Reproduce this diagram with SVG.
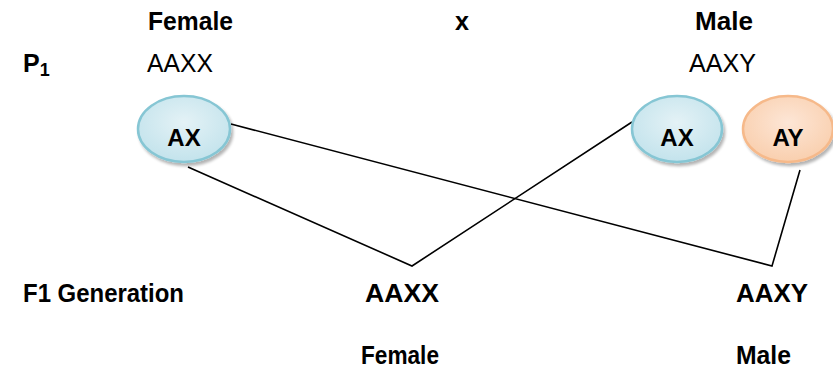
<svg xmlns="http://www.w3.org/2000/svg" width="833" height="379" viewBox="0 0 833 379">
  <defs>
    <radialGradient id="gBlue" cx="50%" cy="40%" r="60%">
      <stop offset="0" stop-color="#e4f2f6"/>
      <stop offset="1" stop-color="#c3e3ec"/>
    </radialGradient>
    <radialGradient id="gPeach" cx="50%" cy="40%" r="60%">
      <stop offset="0" stop-color="#fde6d6"/>
      <stop offset="1" stop-color="#f9cfae"/>
    </radialGradient>
    <filter id="shadow" x="-20%" y="-20%" width="150%" height="150%">
      <feGaussianBlur in="SourceAlpha" stdDeviation="1.5"/>
      <feOffset dx="2" dy="3" result="b"/>
      <feComponentTransfer><feFuncA type="linear" slope="0.3"/></feComponentTransfer>
      <feMerge><feMergeNode/><feMergeNode in="SourceGraphic"/></feMerge>
    </filter>
  </defs>
  <style>
    text { font-family: "Liberation Sans", Arial, sans-serif; fill: #000; }
    .b { font-weight: bold; font-size: 25px; }
    .r { font-size: 25px; }
    .blue { fill: url(#gBlue); stroke: #86c6d4; stroke-width: 2.5; filter: url(#shadow); }
    .peach { fill: url(#gPeach); stroke: #f6b98a; stroke-width: 2.5; filter: url(#shadow); }
    .lbl { font-weight: bold; font-size: 24px; text-anchor: middle; }
    .conn { stroke: #000; stroke-width: 1.6; fill: none; }
  </style>

  <rect width="833" height="379" fill="#fff"/>

  <!-- header row -->
  <g id="header">
    <text class="b" x="148" y="30" textLength="85" lengthAdjust="spacingAndGlyphs">Female</text>
    <text class="b" x="455" y="30" textLength="14" lengthAdjust="spacingAndGlyphs">x</text>
    <text class="b" x="695" y="30" textLength="58" lengthAdjust="spacingAndGlyphs">Male</text>
  </g>

  <!-- parental generation -->
  <g id="p1">
    <text class="b" x="23" y="72">P<tspan font-size="18" dy="4">1</tspan></text>
    <text class="r" x="147" y="72" textLength="66" lengthAdjust="spacingAndGlyphs">AAXX</text>
    <text class="r" x="689" y="72" textLength="67" lengthAdjust="spacingAndGlyphs">AAXY</text>
  </g>

  <!-- connectors -->
  <g id="connectors">
    <polyline class="conn" points="188,167 412,266 632,122"/>
    <polyline class="conn" points="231,124 772,266 800,170"/>
  </g>

  <!-- gametes -->
  <g id="gamete-female-ax">
    <ellipse class="blue" cx="184" cy="129" rx="46" ry="33"/>
    <text class="lbl" x="184" y="146">AX</text>
  </g>
  <g id="gamete-male-ax">
    <ellipse class="blue" cx="677" cy="129" rx="45" ry="33"/>
    <text class="lbl" x="677" y="146">AX</text>
  </g>
  <g id="gamete-male-ay">
    <ellipse class="peach" cx="788" cy="129" rx="45" ry="33"/>
    <text class="lbl" x="788" y="146">AY</text>
  </g>

  <!-- F1 generation -->
  <g id="f1">
    <text class="b" x="23" y="302" textLength="161" lengthAdjust="spacingAndGlyphs">F1 Generation</text>
  </g>
  <g id="offspring-aaxx">
    <text class="b" x="365" y="302" textLength="74" lengthAdjust="spacingAndGlyphs">AAXX</text>
    <text class="b" x="361" y="364" textLength="78" lengthAdjust="spacingAndGlyphs">Female</text>
  </g>
  <g id="offspring-aaxy">
    <text class="b" x="736" y="302" textLength="72" lengthAdjust="spacingAndGlyphs">AAXY</text>
    <text class="b" x="736" y="364" textLength="55" lengthAdjust="spacingAndGlyphs">Male</text>
  </g>
</svg>
